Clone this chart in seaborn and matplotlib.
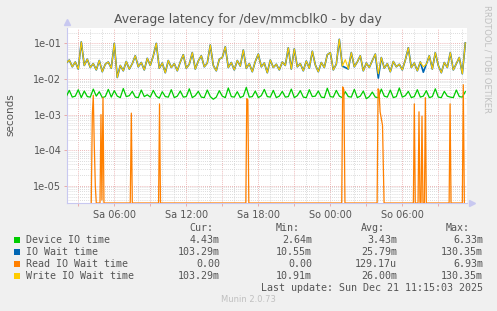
import numpy as np
import pandas as pd
import matplotlib
matplotlib.use("Agg")
import matplotlib.pyplot as plt
import matplotlib.ticker as mticker
from matplotlib.patches import Rectangle
import seaborn as sns

# ---------------- data ----------------
START_HOUR = 2.0      # hours since Sat 00:00
STEP_HOURS = 0.25

device_io_ms = [
    3.2, 4.8, 3.1, 3.3, 5.0, 3.0, 4.6, 3.2, 3.1, 5.2,
    3.3, 4.4, 3.0, 3.2, 5.1, 3.1, 4.7, 3.3, 3.0, 5.4,
    3.2, 3.4, 4.5, 3.1, 3.0, 4.9, 3.2, 3.6, 3.1, 4.8,
    3.3, 2.9, 4.4, 3.2, 3.1, 5.0, 3.0, 3.3, 4.6, 3.1,
    3.2, 5.3, 3.0, 3.4, 4.5, 3.1, 3.0, 4.9, 3.2, 2.7,
    3.1, 4.7, 3.3, 3.0, 5.6, 3.2, 3.1, 4.4, 3.0, 3.3,
    5.8, 3.1, 3.2, 4.6, 3.0, 3.4, 5.1, 3.2, 3.1, 4.8,
    3.0, 3.3, 4.5, 3.1, 3.2, 5.2, 3.0, 3.4, 4.7, 3.1,
    3.0, 5.0, 3.2, 3.3, 4.6, 3.1, 3.0, 5.5, 3.2, 3.1,
    4.8, 3.3, 3.0, 4.4, 3.2, 3.1, 5.1, 3.0, 3.3, 4.6,
    2.8, 3.2, 4.3, 3.1, 3.0, 5.2, 3.3, 3.1, 4.9, 3.0,
    3.2, 5.6, 3.1, 3.4, 4.5, 3.0, 3.2, 5.0, 3.1, 3.3,
    4.7, 3.0, 3.2, 5.3, 3.1, 3.0, 4.5, 3.3, 3.1, 3.0,
    4.9, 3.2, 3.1, 4.4,
]

write_wait_ms = [
    28, 34, 22, 30, 19, 110, 24, 36, 21, 27,
    18, 33, 16, 26, 30, 20, 100, 11, 24, 17,
    31, 19, 27, 45, 22, 29, 18, 38, 24, 45,
    100, 20, 28, 15, 33, 21, 27, 17, 30, 48,
    20, 26, 55, 19, 32, 45, 22, 28, 90, 24,
    17, 36, 40, 80, 21, 29, 18, 33, 23, 65,
    20, 27, 16, 31, 50, 22, 28, 15, 34, 21,
    26, 18, 30, 24, 75, 19, 70, 22, 27, 17,
    32, 20, 60, 25, 16, 29, 21, 48, 55, 18,
    26, 130, 23, 35, 19, 55, 22, 30, 45, 17,
    28, 21, 33, 50, 14, 40, 20, 27, 16, 31,
    22, 26, 18, 34, 75, 21, 28, 17, 30, 22,
    26, 45, 19, 55, 24, 15, 29, 21, 55, 18,
    27, 40, 14, 103,
]

# IO wait equals write wait except where it dips below it
io_wait_dip_hours = [25.25, 28.0, 31.75]
io_wait_dip_ms = [21, 10.6, 15.5]

read_wait_hours = [4.08, 4.17, 4.25, 4.33, 4.42, 4.50,
                   4.81, 4.89, 4.97, 5.06, 5.14,
                   7.33, 7.42, 7.50,
                   9.69, 9.77, 9.85,
                   16.96, 17.04, 17.13, 17.21,
                   24.95, 25.03, 25.13, 25.22,
                   27.90, 27.98, 28.06, 28.15, 28.35, 28.48,
                   30.92, 31.00, 31.08,
                   31.31, 31.39, 31.47,
                   31.56, 31.64, 31.72,
                   31.84, 31.92, 32.00,
                   33.90, 33.98, 34.06,
                   35.00, 35.08, 35.17]
read_wait_ms = [0, 1.0, 3.5, 0.15, 0.01, 0,
                0, 1.0, 0.004, 3.0, 0,
                0, 1.1, 0,
                0, 2.0, 0,
                0, 2.8, 2.6, 0,
                0, 6.0, 5.0, 0,
                0, 5.3, 4.8, 1.2, 0.5, 0,
                0, 2.0, 0,
                0, 1.2, 0,
                0, 0.9, 0,
                0, 3.0, 0,
                0, 2.0, 0,
                0, 6.9, 0]

x_tick_hours = [6, 12, 18, 24, 30]
x_tick_labels = ["Sa 06:00", "Sa 12:00", "Sa 18:00", "So 00:00", "So 06:00"]

legend_names = ["Device IO time", "IO Wait time", "Read IO Wait time", "Write IO Wait time"]
legend_colors = ["#00CC00", "#0066B3", "#FF8000", "#FFCC00"]
cur_vals = ["4.43m", "103.29m", "0.00", "103.29m"]
min_vals = ["2.64m", "10.55m", "0.00", "10.91m"]
avg_vals = ["3.43m", "25.79m", "129.17u", "26.00m"]
max_vals = ["6.33m", "130.35m", "6.93m", "130.35m"]

# ---------------- figure ----------------
W, H = 497, 311
YMIN, YMAX = 3.3e-6, 0.27
XMIN, XMAX = 2.06, 35.39

fig = plt.figure(figsize=(W / 100, H / 100), dpi=100, facecolor="#F0F0F0")
ax = fig.add_axes([67 / W, 1 - 203 / H, 400 / W, 175 / H])
ax.set_facecolor("white")


def hours_for(n):
    return START_HOUR + STEP_HOURS * np.arange(n)


dev = pd.DataFrame({"hour": hours_for(len(device_io_ms)),
                    "sec": np.array(device_io_ms) * 1e-3})
wr_h = hours_for(len(write_wait_ms))
wr = pd.DataFrame({"hour": wr_h, "sec": np.array(write_wait_ms, float) * 1e-3})
io_vals = np.array(write_wait_ms, float)
for h, v in zip(io_wait_dip_hours, io_wait_dip_ms):
    io_vals[np.argmin(np.abs(wr_h - h))] = v
io = pd.DataFrame({"hour": wr_h, "sec": io_vals * 1e-3})
rd = pd.DataFrame({"hour": read_wait_hours,
                   "sec": np.clip(np.array(read_wait_ms) * 1e-3, YMIN, None)})

for df, col, z, lw in [(dev, legend_colors[0], 3, 0.9), (io, legend_colors[1], 4, 1.2),
                       (rd, legend_colors[2], 5, 0.9), (wr, legend_colors[3], 6, 0.8)]:
    sns.lineplot(data=df, x="hour", y="sec", color=col, linewidth=lw,
                 estimator=None, sort=False, ax=ax, zorder=z)

ax.set_yscale("log")
ax.set_xlim(XMIN, XMAX)
ax.set_ylim(YMIN, YMAX)
ax.set_xlabel("")
ax.set_ylabel("")

# grid
ax.xaxis.set_major_locator(mticker.MultipleLocator(3))
ax.xaxis.set_minor_locator(mticker.MultipleLocator(1))
lab_map = dict(zip(x_tick_hours, x_tick_labels))
ax.xaxis.set_major_formatter(mticker.FuncFormatter(
    lambda v, p: lab_map.get(int(round(v)), "") if abs(v - round(v)) < 1e-6 else ""))
ax.yaxis.set_major_locator(mticker.LogLocator(base=10, numticks=20))
ax.yaxis.set_minor_locator(mticker.LogLocator(base=10, subs=np.arange(2, 10), numticks=20))
ax.yaxis.set_major_formatter(mticker.FuncFormatter(lambda v, p: f"{v:.0e}"))
ax.yaxis.set_minor_formatter(mticker.NullFormatter())

grey = "#d0d0d0"
red = "#e8a0a0"
dot = (0, (1, 1.5))
ax.grid(which="minor", axis="both", color=grey, linestyle=dot, linewidth=0.6)
ax.grid(which="major", axis="both", color=red, linestyle=dot, linewidth=0.6)
ax.set_axisbelow(True)

ax.tick_params(which="major", length=2, width=0.6, color=red, labelsize=7,
               labelcolor="#555555", pad=2)
ax.tick_params(which="minor", length=0)
ax.tick_params(axis="x", pad=3)

for s in ["top", "right"]:
    ax.spines[s].set_visible(False)
for s in ["left", "bottom"]:
    ax.spines[s].set_color("#c8c8f0")
    ax.spines[s].set_linewidth(0.8)
ax.plot([0], [1.035], marker="^", color="#c8c8f0", markersize=4,
        transform=ax.transAxes, clip_on=False)
ax.plot([1.012], [0], marker=">", color="#c8c8f0", markersize=4,
        transform=ax.transAxes, clip_on=False)


def px(x, y):
    return x / W, 1 - y / H


fig.text(*px(248, 19), "Average latency for /dev/mmcblk0 - by day",
         ha="center", va="center", fontsize=8.9, color="#555555")
fig.text(*px(10, 115), "seconds", rotation=90, ha="center", va="center",
         fontsize=7.5, color="#555555")
fig.text(*px(487, 5), "RRDTOOL / TOBI OETIKER", rotation=270, ha="center",
         va="top", fontsize=6, color="#c0c0c0")

mono = dict(family="DejaVu Sans Mono", fontsize=7.2, color="#555555", va="center")
for txt, xr in [("Cur:", 213), ("Min:", 299.5), ("Avg:", 385), ("Max:", 470)]:
    fig.text(*px(xr, 228), txt, ha="right", **mono)
rows_y = [240, 252, 264, 276]
for i, y in enumerate(rows_y):
    fig.add_artist(Rectangle(px(14, y + 3), 6 / W, 6 / H, transform=fig.transFigure,
                             facecolor=legend_colors[i], edgecolor="none"))
    fig.text(*px(26, y), legend_names[i], ha="left", **mono)
    fig.text(*px(220, y), cur_vals[i], ha="right", **mono)
    fig.text(*px(312, y), min_vals[i], ha="right", **mono)
    fig.text(*px(397, y), avg_vals[i], ha="right", **mono)
    fig.text(*px(483, y), max_vals[i], ha="right", **mono)
fig.text(*px(483, 288), "Last update: Sun Dec 21 11:15:03 2025", ha="right", **mono)
fig.text(*px(248, 300), "Munin 2.0.73", ha="center", va="center", fontsize=6,
         color="#c0c0c0")

fig.savefig("out.png", dpi=100, facecolor=fig.get_facecolor())
